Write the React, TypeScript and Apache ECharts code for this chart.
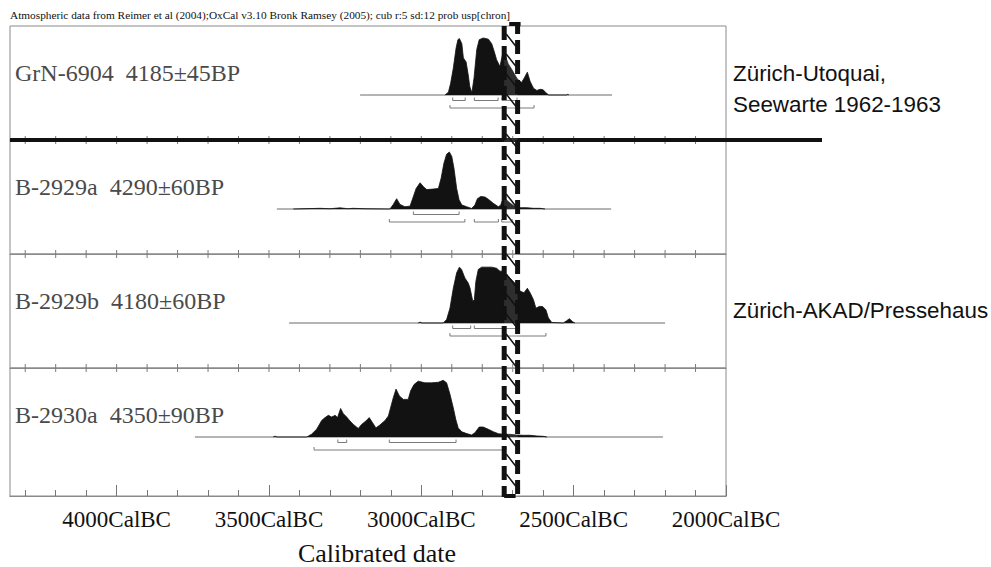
import React, { useEffect, useRef } from "react";
import * as echarts from "echarts";

// ---------- data (years are cal BC) ----------
const caption =
  "Atmospheric data from Reimer et al (2004);OxCal v3.10 Bronk Ramsey (2005); cub r:5 sd:12 prob usp[chron]";
const sampleLabels = [
  "GrN-6904  4185±45BP",
  "B-2929a  4290±60BP",
  "B-2929b  4180±60BP",
  "B-2930a  4350±90BP",
];
const siteUtoquai = ["Zürich-Utoquai,", "Seewarte 1962-1963"];
const siteAkad = "Zürich-AKAD/Pressehaus";
const axisTitle = "Calibrated date";
const majorTicks = [4000, 3500, 3000, 2500, 2000];
const minorTicks = [4300, 4200, 4100, 4000, 3900, 3800, 3700, 3600, 3500, 3400, 3300, 3200, 3100, 3000, 2900, 2800, 2700, 2600, 2500, 2400, 2300, 2200, 2100];
const axisRange = [2000, 4350];
const markedRange = [2728, 2684];

const distGrN6904 = [
  [2922, 0], [2911, 0.05], [2904, 0.2], [2895, 0.47], [2886, 0.82], [2880, 0.97], [2875, 0.99],
  [2867, 0.9], [2862, 0.65], [2853, 0.58], [2846, 0.35], [2841, 0.15], [2834, 0.04], [2827, 0.3],
  [2818, 0.8], [2810, 0.97], [2797, 1.0], [2780, 0.98], [2769, 0.9], [2760, 0.75], [2753, 0.62],
  [2742, 0.5], [2733, 0.72], [2725, 0.7], [2715, 0.55], [2700, 0.42], [2685, 0.28], [2671, 0.22],
  [2662, 0.3], [2652, 0.4], [2643, 0.24], [2632, 0.12], [2621, 0.08], [2610, 0.1], [2600, 0.09],
  [2591, 0.04], [2582, 0], [2522, 0], [2519, 0.015], [2516, 0],
];
const distB2929a = [
  [3420, 0], [3332, 0.012], [3300, 0.005], [3267, 0.02], [3240, 0.005], [3224, 0.012], [3185, 0.005],
  [3103, 0], [3092, 0.08], [3081, 0.18], [3070, 0.08], [3054, 0.04], [3037, 0.05], [3028, 0.19],
  [3017, 0.36], [3004, 0.46], [2993, 0.39], [2982, 0.34], [2961, 0.35], [2944, 0.36], [2935, 0.54],
  [2926, 0.8], [2917, 0.96], [2908, 1.0], [2900, 0.92], [2893, 0.72], [2884, 0.36], [2876, 0.16],
  [2867, 0.07], [2851, 0.04], [2835, 0.01], [2824, 0.07], [2816, 0.18], [2805, 0.22], [2791, 0.21],
  [2780, 0.17], [2764, 0.1], [2747, 0.04], [2739, 0.07], [2731, 0.22], [2715, 0.13], [2698, 0.06],
  [2676, 0.023], [2654, 0.023], [2632, 0.012], [2610, 0.012], [2594, 0],
];
const distB2929b = [
  [3010, 0], [3004, 0.015], [2998, 0],
  [2928, 0], [2917, 0.06], [2906, 0.26], [2895, 0.61], [2884, 0.88], [2875, 0.98], [2868, 0.94],
  [2857, 0.79], [2846, 0.7], [2840, 0.61], [2831, 0.38], [2826, 0.41], [2821, 0.73], [2813, 0.94],
  [2802, 0.98], [2785, 0.98], [2769, 0.98], [2753, 0.96], [2742, 0.91], [2731, 0.91], [2722, 0.86],
  [2709, 0.79], [2693, 0.7], [2676, 0.56], [2663, 0.53], [2652, 0.61], [2643, 0.53], [2632, 0.41],
  [2624, 0.26], [2613, 0.29], [2602, 0.29], [2591, 0.23], [2583, 0.09], [2572, 0.01], [2534, 0],
  [2523, 0.04], [2514, 0.075], [2503, 0.02], [2496, 0],
];
const distB2930a = [
  [3486, 0], [3480, 0.015], [3474, 0],
  [3376, 0], [3360, 0.05], [3343, 0.14], [3327, 0.29], [3316, 0.34], [3305, 0.38], [3294, 0.35],
  [3283, 0.38], [3275, 0.34], [3265, 0.5], [3256, 0.41], [3245, 0.35], [3234, 0.28], [3223, 0.22],
  [3207, 0.15], [3196, 0.22], [3182, 0.28], [3171, 0.34], [3160, 0.25], [3149, 0.16], [3136, 0.21],
  [3119, 0.29], [3108, 0.37], [3101, 0.51], [3092, 0.69], [3083, 0.84], [3072, 0.72], [3059, 0.66],
  [3043, 0.66], [3035, 0.81], [3024, 0.92], [3010, 0.98], [2988, 0.95], [2966, 0.95], [2944, 0.96],
  [2928, 0.995], [2917, 0.95], [2906, 0.75], [2895, 0.51], [2887, 0.31], [2879, 0.16], [2867, 0.09],
  [2851, 0.06], [2835, 0.035], [2824, 0.075], [2810, 0.175], [2797, 0.175], [2780, 0.135],
  [2764, 0.093], [2747, 0.058], [2731, 0.047], [2709, 0.047], [2687, 0.035], [2665, 0.03],
  [2643, 0.03], [2621, 0.018], [2600, 0.012], [2588, 0],
];

const rangeGrN6904 = [3201, 2374];
const rangeB2929a = [3474, 2377];
const rangeB2929b = [3434, 2200];
const rangeB2930a = [3743, 2207];

const sigma1GrN6904 = [[2897, 2856], [2826, 2748], [2735, 2686]];
const sigma2GrN6904 = [[2906, 2630]];
const sigma1B2929a = [[3026, 2876]];
const sigma2B2929a = [[3105, 2857], [2826, 2747], [2736, 2702]];
const sigma1B2929b = [[2897, 2838], [2826, 2686]];
const sigma2B2929b = [[2906, 2591]];
const sigma1B2930a = [[3274, 3245], [3105, 2886]];
const sigma2B2930a = [[3352, 2722]];

const dists = [distGrN6904, distB2929a, distB2929b, distB2930a];
const ranges = [rangeGrN6904, rangeB2929a, rangeB2929b, rangeB2930a];
const sigma1s = [sigma1GrN6904, sigma1B2929a, sigma1B2929b, sigma1B2930a];
const sigma2s = [sigma2GrN6904, sigma2B2929a, sigma2B2929b, sigma2B2930a];

// ---------- layout ----------
const GRID_LEFT = 10;
const GRID_WIDTH = 716;
const panelTops = [26, 140, 254, 368];
const panelHeights = [114, 114, 114, 128];
const BASE_OFFSET = 69;
const PEAK_PX = 57;
const SERIF = "Liberation Serif";
const SANS = "Liberation Sans";
const FRAME = "#8a8a8a";

export default function App() {
  const ref = useRef<HTMLDivElement>(null);

  useEffect(() => {
    if (!ref.current) return;
    const chart = echarts.init(ref.current, undefined, { renderer: "svg" });

    const grids = panelTops.map((t, i) => ({
      left: GRID_LEFT,
      width: GRID_WIDTH,
      top: t,
      height: panelHeights[i],
      show: true,
      borderColor: FRAME,
      borderWidth: 1,
      backgroundColor: "transparent",
    }));

    const yMax = BASE_OFFSET / PEAK_PX;
    const yAxes = panelTops.map((_, i) => ({
      type: "value",
      gridIndex: i,
      min: -(panelHeights[i] - BASE_OFFSET) / PEAK_PX,
      max: yMax,
      show: false,
    }));

    const baseX = {
      type: "value",
      min: axisRange[0],
      max: axisRange[1],
      inverse: true,
      splitLine: { show: false },
      axisLine: { show: true, onZero: false, lineStyle: { color: FRAME, width: 1 } },
      axisLabel: { show: false },
      axisTick: { show: false },
    };

    const xAxes: any[] = [
      { ...baseX, gridIndex: 0, position: "bottom" },
      { ...baseX, gridIndex: 1, position: "bottom" },
      { ...baseX, gridIndex: 2, position: "bottom" },
      {
        ...baseX,
        gridIndex: 3,
        position: "bottom",
        axisTick: {
          show: true,
          inside: true,
          length: 11,
          customValues: majorTicks,
          lineStyle: { color: "#777", width: 1 },
        },
        axisLabel: {
          show: true,
          customValues: majorTicks,
          formatter: (v: number) => `${v}CalBC`,
          fontFamily: SERIF,
          fontSize: 23,
          color: "#111",
          margin: 12,
        },
        name: axisTitle,
        nameLocation: "middle",
        nameGap: 44,
        nameTextStyle: { fontFamily: SERIF, fontSize: 26, color: "#111", padding: [0, 0, 0, 18] },
      },
      {
        ...baseX,
        gridIndex: 3,
        position: "bottom",
        axisTick: { show: true, inside: true, length: 6, customValues: minorTicks, lineStyle: { color: "#777", width: 1 } },
      },
    ];

    const series: any[] = [];
    dists.forEach((d, i) => {
      series.push({
        type: "line",
        xAxisIndex: i,
        yAxisIndex: i,
        data: [[ranges[i][0], 0], [ranges[i][1], 0]],
        symbol: "none",
        lineStyle: { color: "#6a6a6a", width: 1 },
        z: 1,
      });
      series.push({
        type: "line",
        xAxisIndex: i,
        yAxisIndex: i,
        data: d,
        symbol: "none",
        lineStyle: { color: "#121212", width: 0.8 },
        areaStyle: { color: "#121212", opacity: 1 },
        z: 2,
      });
      const brackets = [
        ...sigma1s[i].map((s) => [s[0], s[1], 1]),
        ...sigma2s[i].map((s) => [s[0], s[1], 2]),
      ];
      series.push({
        type: "custom",
        xAxisIndex: i,
        yAxisIndex: i,
        data: brackets,
        encode: { x: [0, 1] },
        z: 3,
        renderItem: (_p: any, api: any) => {
          const s = api.coord([api.value(0), 0]);
          const e = api.coord([api.value(1), 0]);
          const y = s[1] + (api.value(2) === 1 ? 5.5 : 13);
          return {
            type: "polyline",
            shape: { points: [[s[0], y - 3], [s[0], y], [e[0], y], [e[0], y - 3]] },
            style: { stroke: "#7a7a7a", fill: null, lineWidth: 1 },
          };
        },
      });
      if (i > 0) {
        // century ticks crossing the panel separator (top edge of this panel)
        series.push({
          type: "custom",
          xAxisIndex: i,
          yAxisIndex: i,
          data: minorTicks.map((v) => [v, yMax]),
          encode: { x: 0, y: 1 },
          z: 4,
          silent: true,
          renderItem: (_p: any, api: any) => {
            const p = api.coord([api.value(0), api.value(1)]);
            return {
              type: "polyline",
              shape: { points: [[p[0], p[1] - 4], [p[0], p[1] + 4]] },
              style: { stroke: "#7a7a7a", fill: null, lineWidth: 1 },
            };
          },
        });
      }
    });

    chart.setOption({
      animation: false,
      backgroundColor: "#fff",
      grid: grids,
      xAxis: xAxes,
      yAxis: yAxes,
      series,
    });

    const xL = chart.convertToPixel({ xAxisIndex: 0 }, markedRange[0]) as number;
    const xR = chart.convertToPixel({ xAxisIndex: 0 }, markedRange[1]) as number;
    const boxTop = 22;
    const boxBottom = 497;

    const elements: any[] = [
      {
        type: "text",
        x: 10,
        y: 15,
        style: { text: caption, fontFamily: SERIF, fontSize: 11.3, fill: "#111", verticalAlign: "middle" },
      },
      ...sampleLabels.map((t, i) => ({
        type: "text",
        x: 15,
        y: panelTops[i] + BASE_OFFSET - 22.5,
        style: { text: t, fontFamily: SERIF, fontSize: 24, fill: "#4a4a4a", verticalAlign: "middle" },
      })),
      {
        type: "text",
        x: 733,
        y: 73,
        style: { text: siteUtoquai[0], fontFamily: SANS, fontSize: 22.4, fill: "#111", verticalAlign: "middle" },
      },
      {
        type: "text",
        x: 733,
        y: 104,
        style: { text: siteUtoquai[1], fontFamily: SANS, fontSize: 22.4, fill: "#111", verticalAlign: "middle" },
      },
      {
        type: "text",
        x: 733,
        y: 310,
        style: { text: siteAkad, fontFamily: SANS, fontSize: 22.4, fill: "#111", verticalAlign: "middle" },
      },
      {
        type: "line",
        shape: { x1: 10, y1: panelTops[1], x2: 822, y2: panelTops[1] },
        style: { stroke: "#111", lineWidth: 4 },
        z: 10,
      },
      {
        type: "rect",
        shape: { x: xL, y: boxTop, width: xR - xL, height: boxBottom - boxTop },
        style: { fill: "rgba(255,255,255,0.12)", stroke: null },
        z: 11,
      },
      {
        type: "line",
        shape: { x1: xL, y1: boxTop + 4, x2: xL, y2: boxBottom },
        style: { stroke: "#111", lineWidth: 5, lineDash: [14, 6] },
        z: 12,
      },
      {
        type: "line",
        shape: { x1: xR, y1: boxTop + 4, x2: xR, y2: boxBottom },
        style: { stroke: "#111", lineWidth: 5, lineDash: [14, 6], lineDashOffset: 6 },
        z: 12,
      },
      {
        type: "rect",
        shape: { x: xL + 5, y: boxTop, width: xR - xL - 2, height: 4 },
        style: { fill: "#111" },
        z: 12,
      },
      {
        type: "rect",
        shape: { x: xL, y: boxBottom - 3, width: xR - xL - 2, height: 4 },
        style: { fill: "#111" },
        z: 12,
      },
    ];
    for (let y = boxTop + 12; y < boxBottom - 12; y += 20) {
      elements.push({
        type: "line",
        shape: { x1: xL + 2, y1: y, x2: xR - 2, y2: y + 12 },
        style: { stroke: "#111", lineWidth: 1.5 },
        z: 12,
      });
    }

    chart.setOption({ graphic: { elements } });

    return () => chart.dispose();
  }, []);

  return (
    <div
      ref={ref}
      style={{ position: "absolute", left: 0, top: 0, width: 991, height: 567, background: "#fff" }}
    />
  );
}
